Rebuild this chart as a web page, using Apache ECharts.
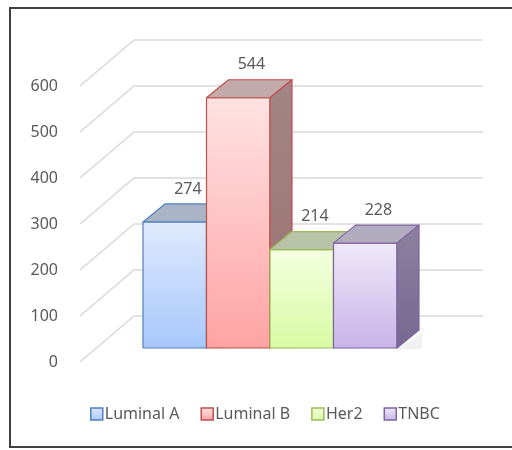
<!DOCTYPE html>
<html>
<head>
<meta charset="utf-8">
<script src="https://cdn.jsdelivr.net/npm/echarts@6/dist/echarts.min.js"></script>
<style>
  html, body { margin: 0; padding: 0; background: #fff; }
  #chart { width: 512px; height: 450px; }
</style>
</head>
<body>
<div id="chart"></div>
<script>
// data
const categories = ["Luminal A", "Luminal B", "Her2", "TNBC"];
const values = [274, 544, 214, 228];
const yTicks = [0, 100, 200, 300, 400, 500, 600];

// per-bar colours: front top, front bottom, border, top face, side face top, side face bottom
const barColors = [
  ["#dfeafd", "#a7c7fb", "#4f81bd", "#a9b3c6", "#8d98ab", "#7f8ba0"],
  ["#ffe3e3", "#ffa3a3", "#c0504d", "#c3aaaa", "#a28584", "#9a7371"],
  ["#f3ffe0", "#d8fba4", "#9bbb59", "#b8c3a8", "#97a382", "#8a9873"],
  ["#efe9f9", "#c8b3e7", "#8064a2", "#b3acbf", "#8d819e", "#766891"]
];

// depth of the fake 3d
const DX = 22, DY = 18; // bar depth
const WX = 54, WY = 46; // wall depth

let chart = echarts.init(document.getElementById("chart"));

function wallItem(params, api) {
  let v = api.value(0);
  let front = api.coord([0, v]);
  let back = [front[0] + WX, front[1] - WY];
  let end = [params.coordSys.x + params.coordSys.width, back[1]];
  return {
    type: "polyline",
    shape: { points: [front, back, end] },
    style: { stroke: "#d9d9d9", lineWidth: 1.5, fill: null },
    silent: true
  };
}

function barItem(idx) {
  return function(params, api) {
    let c = barColors[idx];
    let cat = api.value(0);
    let v = api.value(1);
    let base = api.coord([cat, 0]);
    let top = api.coord([cat, v]);
    let bw = api.size([1, 0])[0];
    let x0 = base[0] - bw / 2;
    let x1 = base[0] + bw / 2;
    let yb = base[1];
    let yt = top[1];
    let stroke = { stroke: c[2], lineWidth: 1.2, lineJoin: "round" };
    return {
      type: "group",
      children: [
        {
          // 底部阴影
          type: "polygon",
          shape: { points: [[x0 - 6, yb + 1], [x1 + DX + 3, yb + 1], [x1 + DX + 3, yb - DY + 3], [x1, yb + 1]] },
          style: { fill: "rgba(0,0,0,0.05)", shadowBlur: 3, shadowColor: "rgba(0,0,0,0.08)" },
          z2: 0
        },
        {
          // 正面
          type: "polygon",
          shape: { points: [[x0, yt], [x1, yt], [x1, yb], [x0, yb]] },
          style: Object.assign({
            fill: new echarts.graphic.LinearGradient(0, 0, 0, 1, [
              { offset: 0, color: c[0] },
              { offset: 1, color: c[1] }
            ])
          }, stroke),
          z2: 2
        },
        {
          // 顶面
          type: "polygon",
          shape: { points: [[x0, yt], [x0 + DX, yt - DY], [x1 + DX, yt - DY], [x1, yt]] },
          style: Object.assign({ fill: c[3] }, stroke),
          z2: 2
        },
        {
          // 侧面
          type: "polygon",
          shape: { points: [[x1, yt], [x1 + DX, yt - DY], [x1 + DX, yb - DY], [x1, yb]] },
          style: Object.assign({
            fill: new echarts.graphic.LinearGradient(0, 0, 0, 1, [
              { offset: 0, color: c[4] },
              { offset: 1, color: c[5] }
            ])
          }, stroke),
          z2: 2
        },
        {
          // 数值标签
          type: "text",
          style: {
            text: String(v),
            x: (x0 + x1) / 2 + DX * 0.6,
            y: yt - DY - 15,
            align: "center",
            verticalAlign: "middle",
            fontSize: 16,
            fontFamily: "Noto Sans",
            fill: "#595959"
          },
          z2: 3
        }
      ]
    };
  };
}

let series = [
  {
    type: "custom",
    name: "wall",
    xAxisIndex: 0,
    yAxisIndex: 0,
    renderItem: wallItem,
    data: yTicks.map(t => [t]),
    encode: { y: 0 },
    z: 1,
    silent: true
  }
];
categories.forEach((name, i) => {
  series.push({
    type: "custom",
    name: name,
    xAxisIndex: 1,
    yAxisIndex: 1,
    renderItem: barItem(i),
    data: [[i, values[i]]],
    encode: { x: 0, y: 1 },
    z: 2 + i,
    silent: true
  });
});

let option = {
  animation: false,
  backgroundColor: "#fff",
  grid: [
    { left: 80, top: 86, width: 403, height: 276 },
    { left: 143, top: 72, width: 254, height: 276 }
  ],
  xAxis: [
    { gridIndex: 0, type: "value", min: 0, max: 1, show: false },
    { gridIndex: 1, type: "category", data: categories, show: false }
  ],
  yAxis: [
    {
      gridIndex: 0,
      type: "value",
      min: 0,
      max: 600,
      interval: 100,
      axisLine: { show: false },
      axisTick: { show: false },
      splitLine: { show: false },
      axisLabel: {
        margin: 22,
        fontSize: 16,
        fontFamily: "Noto Sans",
        color: "#595959"
      }
    },
    { gridIndex: 1, type: "value", min: 0, max: 600, show: false }
  ],
  legend: {
    left: 85,
    top: 401,
    itemWidth: 12,
    itemHeight: 12,
    itemGap: 21,
    icon: "rect",
    textStyle: { fontSize: 16, fontFamily: "Noto Sans", color: "#595959", padding: [0, 0, 0, -3] },
    data: categories.map((name, i) => ({
      name: name,
      itemStyle: {
        color: new echarts.graphic.LinearGradient(0, 0, 0, 1, [
          { offset: 0, color: barColors[i][0] },
          { offset: 1, color: barColors[i][1] }
        ]),
        borderColor: barColors[i][2],
        borderWidth: 1.5
      }
    }))
  },
  graphic: [
    {
      type: "rect",
      shape: { x: 10, y: 8, width: 540, height: 439 },
      style: { fill: null, stroke: "#404040", lineWidth: 2 },
      silent: true,
      z: 0
    }
  ],
  series: series
};
chart.setOption(option);
</script>
</body>
</html>
